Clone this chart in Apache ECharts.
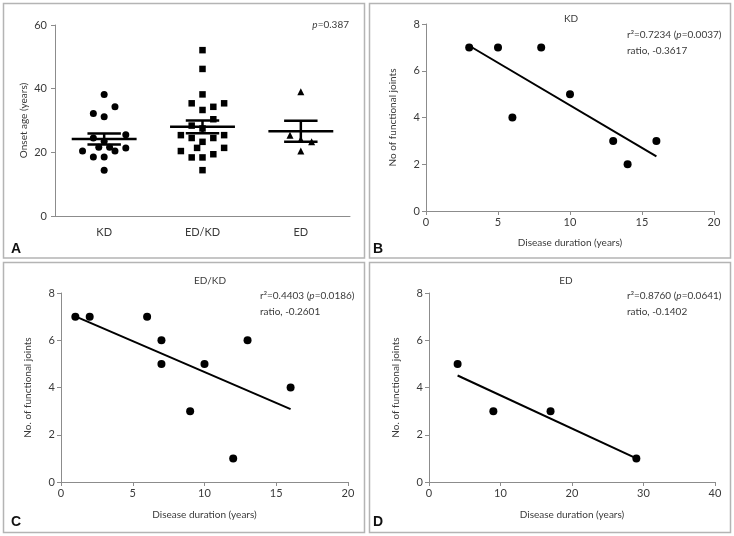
<!DOCTYPE html>
<html>
<head>
<meta charset="utf-8">
<script src="https://cdn.jsdelivr.net/npm/echarts@6/dist/echarts.min.js"></script>
<style>
html,body{margin:0;padding:0;background:#fff;}
#c{width:734px;height:536px;}
</style>
</head>
<body>
<div id="c"></div>
<script>
// ---------- DATA ----------
// Panel A: onset age by group (jitter = horizontal slot in the dot column)
const catLabels = ['KD', 'ED/KD', 'ED'];
const kdAge  = [38.2, 34.3, 32.2, 31.2, 25.5, 24.5, 23.5, 21.6, 21.6, 21.4, 20.4, 20.4, 18.5, 18.5, 14.4];
const kdJit  = [0, 2, -2, 0, 4, -2, 0, -1, 1, 4, -4, 2, -2, 0, 0];
const edkdAge = [52.1, 46.2, 38.2, 35.4, 35.4, 34.3, 33.3, 30.4, 28.4, 27.5, 25.4, 24.5, 24.5, 25.4, 23.3, 21.4, 21.4, 20.4, 19.4, 18.4, 18.4, 14.4];
const edkdJit = [0, 0, 0, -2, 4, 2, 0, 2, -2, 0, -4, -2, 2, 4, 0, -1, 4, -4, 2, -2, 0, 0];
const edAge = [39.0, 25.4, 24.0, 23.3, 20.4];
const edJit = [0, -2, 0, 2, 0];
const meanAge = [24.2, 28.0, 26.6];
const semAge  = [1.7, 2.0, 3.3];
const ageTicks = [0, 20, 40, 60];

// Panel B: KD
const kdDur = [3, 5, 6, 8, 10, 13, 14, 16];
const kdJoints = [7, 7, 4, 7, 5, 3, 2, 3];
// Panel C: ED/KD
const edkdDur = [1, 2, 6, 7, 7, 9, 10, 12, 13, 16];
const edkdJoints = [7, 7, 7, 6, 5, 3, 5, 1, 6, 4];
// Panel D: ED
const edDur = [4, 9, 17, 29];
const edJoints = [5, 3, 3, 1];

const statsB = ['0.7234', '0.0037', '-0.3617'];
const statsC = ['0.4403', '0.0186', '-0.2601'];
const statsD = ['0.8760', '0.0641', '-0.1402'];

// ---------- HELPERS ----------
const FONT = 'Lato, "Liberation Sans", Arial, sans-serif';
const FS = 10;
const AX = '#8c8c8c';
const TXT = '#3a3a3a';
const JIT = 0.055;

function fitLine(xs, ys) {
  const n = xs.length;
  const mx = xs.reduce((a, b) => a + b, 0) / n;
  const my = ys.reduce((a, b) => a + b, 0) / n;
  let sxy = 0, sxx = 0;
  for (let i = 0; i < n; i++) { sxy += (xs[i] - mx) * (ys[i] - my); sxx += (xs[i] - mx) ** 2; }
  const b = sxy / sxx, a = my - b * mx;
  const x0 = Math.min(...xs), x1 = Math.max(...xs);
  return [[x0, a + b * x0], [x1, a + b * x1]];
}
function zip(xs, ys) { return xs.map((x, i) => [x, ys[i]]); }

function valAxis(grid, min, max, interval, extra) {
  return Object.assign({
    type: 'value', gridIndex: grid, min: min, max: max, interval: interval,
    splitLine: { show: false },
    axisLine: { show: true, lineStyle: { color: AX, width: 1 } },
    axisTick: { show: true, length: 4, lineStyle: { color: AX } },
    axisLabel: { color: TXT, fontSize: 11, fontFamily: FONT, margin: 6 },
    nameLocation: 'middle',
    nameTextStyle: { color: TXT, fontSize: FS, fontFamily: FONT }
  }, extra || {});
}

const grids = [
  { left: 55, top: 25, width: 295, height: 191 },
  { left: 426, top: 24, width: 288, height: 187 },
  { left: 61, top: 293, width: 287, height: 189 },
  { left: 429, top: 293, width: 286, height: 189 }
];

const xAxes = [
  { type: 'category', gridIndex: 0, data: catLabels, boundaryGap: true,
    axisLine: { show: true, lineStyle: { color: AX } }, axisTick: { show: false },
    axisLabel: { color: TXT, fontSize: 11, fontFamily: FONT, margin: 11 } },
  { type: 'value', gridIndex: 0, min: 0, max: 3, show: false },
  valAxis(1, 0, 20, 5, { name: 'Disease duration (years)', nameGap: 27 }),
  valAxis(2, 0, 20, 5, { name: 'Disease duration (years)', nameGap: 28 }),
  valAxis(3, 0, 40, 10, { name: 'Disease duration (years)', nameGap: 28 })
];
const yAxes = [
  valAxis(0, ageTicks[0], ageTicks[ageTicks.length - 1], 20, { name: 'Onset age (years)', nameGap: 26, axisLabel: { color: TXT, fontSize: 11, fontFamily: FONT, margin: 8 } }),
  valAxis(1, 0, 8, 2, { name: 'No of functional joints', nameGap: 28 }),
  valAxis(2, 0, 8, 2, { name: 'No. of functional joints', nameGap: 28 }),
  valAxis(3, 0, 8, 2, { name: 'No. of functional joints', nameGap: 28 })
];

function dotSeries(xi, yi, data, symbol, size) {
  return { type: 'scatter', xAxisIndex: xi, yAxisIndex: yi, data: data, symbol: symbol, symbolSize: size,
    itemStyle: { color: '#000', opacity: 1 }, silent: true, z: 3 };
}
function regSeries(xi, yi, xs, ys) {
  return { type: 'line', xAxisIndex: xi, yAxisIndex: yi, data: fitLine(xs, ys), symbol: 'none',
    lineStyle: { color: '#000', width: 2, opacity: 1 }, silent: true, z: 2 };
}

const meanData = meanAge.map((m, i) => [i, m, semAge[i]]);

const series = [
  dotSeries(1, 0, kdAge.map((v, k) => [0.5 + kdJit[k] * JIT, v]), 'circle', 7),
  dotSeries(1, 0, edkdAge.map((v, k) => [1.5 + edkdJit[k] * JIT, v]), 'rect', 6.5),
  dotSeries(1, 0, edAge.map((v, k) => [2.5 + edJit[k] * JIT, v]), 'triangle', 7),
  {
    type: 'custom', xAxisIndex: 1, yAxisIndex: 0, data: meanData, z: 5, silent: true,
    renderItem: function (params, api) {
      const c = api.value(0) + 0.5, m = api.value(1), s = api.value(2);
      const L = api.coord([c - 0.33, m]), R = api.coord([c + 0.33, m]);
      const top = api.coord([c, m + s]), bot = api.coord([c, m - s]);
      const cl = api.coord([c - 0.17, m])[0], cr = api.coord([c + 0.17, m])[0];
      const st = { stroke: '#000', lineWidth: 2.5 };
      return { type: 'group', children: [
        { type: 'line', shape: { x1: L[0], y1: L[1], x2: R[0], y2: R[1] }, style: st },
        { type: 'line', shape: { x1: cl, y1: top[1], x2: cr, y2: top[1] }, style: st },
        { type: 'line', shape: { x1: cl, y1: bot[1], x2: cr, y2: bot[1] }, style: st },
        { type: 'line', shape: { x1: top[0], y1: top[1], x2: bot[0], y2: bot[1] }, style: st }
      ] };
    }
  },
  dotSeries(2, 1, zip(kdDur, kdJoints), 'circle', 8),
  regSeries(2, 1, kdDur, kdJoints),
  dotSeries(3, 2, zip(edkdDur, edkdJoints), 'circle', 8),
  regSeries(3, 2, edkdDur, edkdJoints),
  dotSeries(4, 3, zip(edDur, edJoints), 'circle', 8),
  regSeries(4, 3, edDur, edJoints)
];

function txt(x, y, text, opts) {
  return { type: 'text', x: x, y: y, z: 10, silent: true,
    style: Object.assign({ text: text, fill: TXT, font: FS + 'px ' + FONT, align: 'left', verticalAlign: 'middle',
      rich: { i: { fontStyle: 'italic', fontSize: FS, fontFamily: FONT, fill: TXT } } }, opts || {}) };
}
function statText(x, y, s) {
  return [
    txt(x, y, 'r\u00b2=' + s[0] + ' ({i|p}=' + s[1] + ')'),
    txt(x, y + 16, 'ratio, ' + s[2])
  ];
}
function frame(x, y, w, h) {
  return { type: 'rect', shape: { x: x, y: y, width: w, height: h }, silent: true, z: 0,
    style: { fill: 'none', stroke: '#b4b4b4', lineWidth: 1.5 } };
}
function letter(x, y, t) {
  return { type: 'text', x: x, y: y, z: 10, silent: true,
    style: { text: t, fill: '#111', font: 'bold 14px "Liberation Sans", Arial, sans-serif', align: 'left', verticalAlign: 'middle' } };
}

const graphics = [
  frame(3.5, 3.5, 361, 254.5), frame(369.5, 3.5, 361, 254.5),
  frame(3.5, 262.5, 361, 270), frame(369.5, 262.5, 361, 270),
  letter(11, 249, 'A'), letter(373, 249, 'B'), letter(11, 522, 'C'), letter(373, 522, 'D'),
  txt(349, 25, '{i|p}=0.387', { align: 'right' }),
  txt(571, 19, 'KD', { align: 'center' }),
  txt(210, 281, 'ED/KD', { align: 'center' }),
  txt(566, 281, 'ED', { align: 'center' })
].concat(statText(627, 35, statsB), statText(260, 296, statsC), statText(627, 296, statsD));

const chart = echarts.init(document.getElementById('c'), null, { renderer: 'canvas' });
chart.setOption({
  animation: false,
  backgroundColor: '#fff',
  grid: grids,
  xAxis: xAxes,
  yAxis: yAxes,
  series: series,
  graphic: graphics
});
</script>
</body>
</html>
